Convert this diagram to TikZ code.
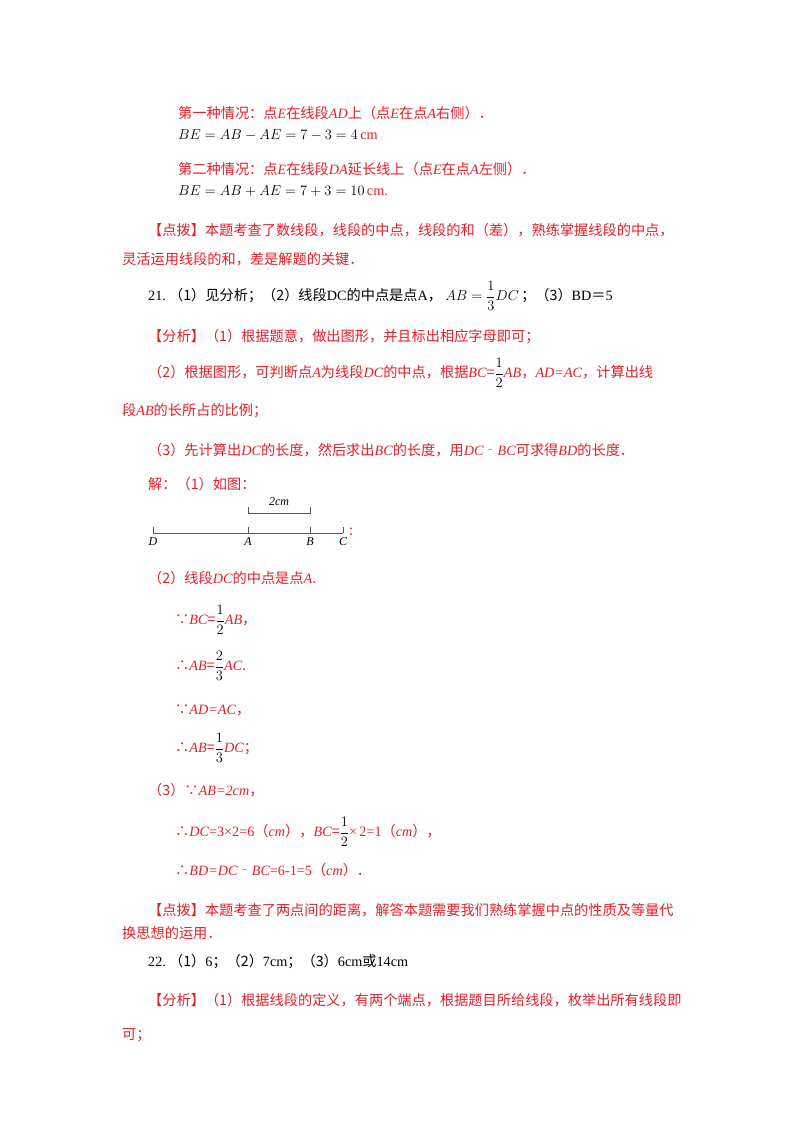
\documentclass[tikz,border=0pt]{standalone}
\usepackage{amsmath}
\usepackage{fontspec}
\setmainfont{Liberation Serif}
\newfontfamily\cjk{Noto Sans CJK SC}
\definecolor{rd}{RGB}{230,30,40}
\begin{document}
\begin{tikzpicture}[x=1pt,y=-1pt,
  t/.style={anchor=west,inner sep=0pt,font=\fontsize{14.2}{16}\selectfont\cjk,text=rd},
  k/.style={t,text=black}]
\useasboundingbox[fill=white] (0,0) rectangle (800,1132);
\node[t] (l1) at (178,113) {第一种情况：点{\rmfamily\itshape E}在线段{\rmfamily\itshape AD}上（点{\rmfamily\itshape E}在点{\rmfamily\itshape A}右侧）．};
\node[t] (l2) at (178,135) {\color{black}$BE=AB-AE=7-3=4$\,\textcolor{rd}{\rmfamily cm}};
\node[t] (l3) at (178,169) {第二种情况：点{\rmfamily\itshape E}在线段{\rmfamily\itshape DA}延长线上（点{\rmfamily\itshape E}在点{\rmfamily\itshape A}左侧）．};
\node[t] (l4) at (178,191) {\color{black}$BE=AB+AE=7+3=10$\,\textcolor{rd}{\rmfamily cm.}};
\node[t] (l5) at (148,230) {【点拨】本题考查了数线段，线段的中点，线段的和（差），熟练掌握线段的中点，};
\node[t] (l6) at (122,259) {灵活运用线段的和，差是解题的关键．};
\node[k] (l7) at (148,296) {{\rmfamily 21.}\ （1）见分析；（2）线段{\rmfamily DC}的中点是点{\rmfamily A}，\ $AB=\dfrac13DC$\,；（3）{\rmfamily BD}＝{\rmfamily 5}};
\node[t] (l8) at (148,337) {【分析】（1）根据题意，做出图形，并且标出相应字母即可；};
\node[t] (l9) at (148,373) {（2）根据图形，可判断点{\rmfamily\itshape A}为线段{\rmfamily\itshape DC}的中点，根据{\rmfamily\itshape BC}=\textcolor{black}{$\dfrac12$}{\rmfamily\itshape AB}，{\rmfamily\itshape AD=AC}，计算出线};
\node[t] (l10) at (122,411) {段{\rmfamily\itshape AB}的长所占的比例；};
\node[t] (l11) at (148,450) {（3）先计算出{\rmfamily\itshape DC}的长度，然后求出{\rmfamily\itshape BC}的长度，用{\rmfamily\itshape DC}‐{\rmfamily\itshape BC}可求得{\rmfamily\itshape BD}的长度．};
\node[t] (l12) at (148,484) {解：（1）如图：};
% figure
\coordinate (D) at (153,533); \coordinate (A) at (248,533);
\coordinate (B) at (310,533); \coordinate (C) at (343,533);
\draw[gray!70!black,line width=0.9pt] (D) -- (C);
\foreach \p in {D,A,B,C} \draw[gray!70!black,line width=0.9pt] (\p) -- ++(0,-6);
\draw[gray!70!black,line width=0.9pt] (248,507) -- (248,513) -- (310,513) -- (310,507);
\node[font=\fontsize{12}{14}\selectfont\itshape] (lab) at (279,502) {2cm};
\foreach \p in {D,A,B,C} \node[font=\fontsize{12}{14}\selectfont\itshape,below=1pt] (n\p) at (\p) {\p};
\node[t] (colon) at (349,532) {:};
\node[t] (l13) at (148,578) {（2）线段{\rmfamily\itshape DC}的中点是点{\rmfamily\itshape A}.};
\node[t] (l14) at (175,620) {∵{\rmfamily\itshape BC}=\textcolor{black}{$\dfrac12$}{\rmfamily\itshape AB}，};
\node[t] (l15) at (175,666) {∴{\rmfamily\itshape AB}=\textcolor{black}{$\dfrac23$}{\rmfamily\itshape AC}.};
\node[t] (l16) at (175,710) {∵{\rmfamily\itshape AD=AC}，};
\node[t] (l17) at (175,748) {∴{\rmfamily\itshape AB}=\textcolor{black}{$\dfrac13$}{\rmfamily\itshape DC}；};
\node[t] (l18) at (148,790) {（3）∵{\rmfamily\itshape AB=2cm}，};
\node[t] (l19) at (175,832) {∴{\rmfamily\itshape DC}{\rmfamily=3×2=6}（{\rmfamily\itshape cm}），{\rmfamily\itshape BC}=\textcolor{black}{$\dfrac12$}{\rmfamily×\,2=1}（{\rmfamily\itshape cm}），};
\node[t] (l20) at (175,870) {∴{\rmfamily\itshape BD=DC}‐{\rmfamily\itshape BC}{\rmfamily=6‐1=5}（{\rmfamily\itshape cm}）．};
\node[t] (l21) at (148,910) {【点拨】本题考查了两点间的距离，解答本题需要我们熟练掌握中点的性质及等量代};
\node[t] (l22) at (122,933) {换思想的运用．};
\node[k] (l23) at (148,962) {{\rmfamily 22.}\ （1）{\rmfamily 6}；（2）{\rmfamily 7cm}；（3）{\rmfamily 6cm}或{\rmfamily 14cm}};
\node[t] (l24) at (148,1000) {【分析】（1）根据线段的定义，有两个端点，根据题目所给线段，枚举出所有线段即};
\node[t] (l25) at (122,1035) {可；};
\end{tikzpicture}
\end{document}
